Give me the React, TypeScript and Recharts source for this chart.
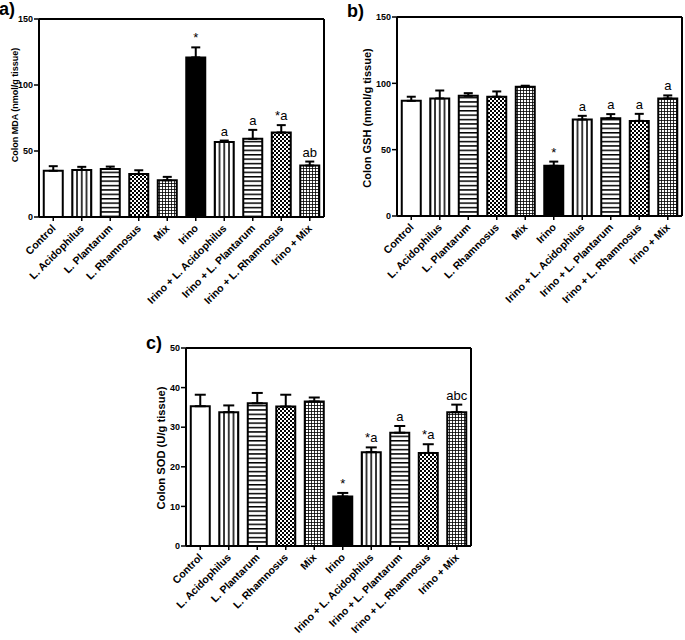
import React from "react";
import {
  ComposedChart,
  Bar,
  Cell,
  ErrorBar,
  Line,
  LabelList,
  ReferenceLine,
  XAxis,
  YAxis,
} from "recharts";

const FONT = '"Liberation Sans", Arial, sans-serif';

const categories = [
  "Control",
  "L. Acidophilus",
  "L. Plantarum",
  "L. Rhamnosus",
  "Mix",
  "Irino",
  "Irino + L. Acidophilus",
  "Irino + L. Plantarum",
  "Irino + L. Rhamnosus",
  "Irino + Mix",
];

// a) colon MDA
const mdaMean = [35, 35.7, 36.4, 32.6, 27.8, 120.9, 56.9, 59.2, 64, 39];
const mdaErr = [3.5, 2.3, 1.8, 2.8, 2.6, 7.6, 1.0, 6.8, 5.6, 3.0];
const mdaNote = ["", "", "", "", "", "*", "a", "a", "*a", "ab"];
const mdaTicks = [0, 50, 100, 150];

// b) colon GSH
const gshMean = [86.8, 88.6, 90.6, 89.9, 97.4, 37.8, 72.7, 73.7, 71.7, 88.6];
const gshErr = [3.1, 6.0, 2.0, 4.0, 0.8, 3.2, 2.8, 3.1, 5.3, 2.3];
const gshNote = ["", "", "", "", "", "*", "a", "a", "a", "a"];
const gshTicks = [0, 50, 100, 150];

// c) colon SOD
const sodMean = [35.3, 33.8, 36.05, 35.2, 36.5, 12.5, 23.7, 28.6, 23.5, 33.8];
const sodErr = [2.9, 1.7, 2.6, 3.0, 1.0, 0.9, 1.2, 1.7, 2.2, 1.9];
const sodNote = ["", "", "", "", "", "*", "*a", "a", "*a", "abc"];
const sodTicks = [0, 10, 20, 30, 40, 50];

// bar fills, one per group
const fills = [
  "#fff",
  "url(#vlines)",
  "url(#hlines)",
  "url(#checker)",
  "url(#grid)",
  "#000",
  "url(#vlines)",
  "url(#hlines)",
  "url(#checker)",
  "url(#grid)",
];

function buildRows(mean: number[], err: number[], notes: string[]) {
  return categories.map((name, i) => ({
    name,
    value: mean[i],
    err: [0, err[i]],
    top: mean[i] + err[i],
    note: notes[i],
  }));
}

function AngledTick(props: any) {
  const { x, y, payload } = props;
  const tx = x + 3;
  const ty = y + 8;
  return (
    <text
      x={tx}
      y={ty}
      transform={`rotate(-45 ${tx} ${ty})`}
      textAnchor="end"
      fontSize={10.5}
      fontWeight="bold"
      fontFamily={FONT}
      fill="#000"
    >
      {payload.value}
    </text>
  );
}

interface PanelProps {
  rows: any[];
  width: number;
  height: number;
  top: number;
  right: number;
  axisWidth: number;
  xAxisHeight: number;
  ticks: number[];
  title: string;
  titleX: number;
  titleY: number;
  titleSize: number;
  capWidth: number;
}

function Panel(p: PanelProps) {
  const line = { stroke: "#000", strokeWidth: 2 };
  const tickLine = { stroke: "#000", strokeWidth: 1.5 };
  const yMax = p.ticks[p.ticks.length - 1];
  return (
    <ComposedChart
      width={p.width}
      height={p.height}
      data={p.rows}
      margin={{ top: p.top, right: p.right, left: 0, bottom: 0 }}
      barCategoryGap="16.7%"
    >
      <XAxis
        dataKey="name"
        interval={0}
        tick={<AngledTick />}
        tickSize={4}
        tickMargin={0}
        height={p.xAxisHeight}
        axisLine={line}
        tickLine={tickLine}
      />
      <YAxis
        domain={[p.ticks[0], yMax]}
        ticks={p.ticks}
        interval={0}
        width={p.axisWidth}
        tickSize={5}
        tickMargin={1}
        tick={{ fontSize: 9, fontWeight: "bold", fontFamily: FONT, fill: "#000" }}
        axisLine={line}
        tickLine={tickLine}
        label={() => (
          <text
            x={p.titleX}
            y={p.titleY}
            transform={`rotate(-90 ${p.titleX} ${p.titleY})`}
            textAnchor="middle"
            dominantBaseline="central"
            fontSize={p.titleSize}
            fontWeight="bold"
            fontFamily={FONT}
            fill="#000"
          >
            {p.title}
          </text>
        )}
      />
      {/* box frame: top and right edges */}
      <ReferenceLine y={yMax} stroke="#000" strokeWidth={2} />
      <ReferenceLine
        x={categories[categories.length - 1]}
        position="end"
        stroke="#000"
        strokeWidth={2}
      />
      <Bar dataKey="value" stroke="#000" strokeWidth={2} isAnimationActive={false}>
        {p.rows.map((r, i) => (
          <Cell key={r.name} fill={fills[i]} />
        ))}
        <ErrorBar dataKey="err" width={p.capWidth} stroke="#000" strokeWidth={2} />
      </Bar>
      <Line
        dataKey="top"
        stroke="none"
        dot={false}
        activeDot={false}
        isAnimationActive={false}
      >
        <LabelList
          dataKey="note"
          position="top"
          offset={5}
          fontSize={13}
          fontFamily={FONT}
          fill="#000"
        />
      </Line>
    </ComposedChart>
  );
}

export default function App() {
  const mdaRows = buildRows(mdaMean, mdaErr, mdaNote);
  const gshRows = buildRows(gshMean, gshErr, gshNote);
  const sodRows = buildRows(sodMean, sodErr, sodNote);
  const letter = { fontSize: 18, fontWeight: "bold" as const, fontFamily: FONT, fill: "#000" };

  return (
    <div style={{ position: "absolute", left: 0, top: 0, width: 685, height: 640, background: "#fff", overflow: "hidden" }}>
      <svg width={685} height={640} style={{ position: "absolute", left: 0, top: 0 }}>
        <defs>
          <pattern id="vlines" patternUnits="objectBoundingBox" patternContentUnits="objectBoundingBox" width={0.25} height={1}>
            <rect x={0} y={0} width={0.25} height={1} fill="#fff" />
            <rect x={0} y={0} width={0.04} height={1} fill="#000" />
            <rect x={0.21} y={0} width={0.04} height={1} fill="#000" />
          </pattern>
          <pattern id="hlines" patternUnits="userSpaceOnUse" width={10} height={4.4}>
            <rect x={0} y={0} width={10} height={4.4} fill="#fff" />
            <rect x={0} y={0} width={10} height={1.5} fill="#000" />
          </pattern>
          <pattern id="checker" patternUnits="userSpaceOnUse" width={4} height={4}>
            <rect x={0} y={0} width={4} height={4} fill="#fff" />
            <rect x={0} y={0} width={2} height={2} fill="#000" />
            <rect x={2} y={2} width={2} height={2} fill="#000" />
          </pattern>
          <pattern id="grid" patternUnits="userSpaceOnUse" width={3} height={3}>
            <rect x={0} y={0} width={3} height={3} fill="#fff" />
            <rect x={0} y={0} width={3} height={0.8} fill="#000" />
            <rect x={0} y={0} width={0.8} height={3} fill="#000" />
          </pattern>
        </defs>
        <text x={-1} y={15} {...letter}>a)</text>
        <text x={347} y={17} {...letter}>b)</text>
        <text x={146} y={349} {...letter}>c)</text>
      </svg>

      <div style={{ position: "absolute", left: 0, top: 0 }}>
        <Panel rows={mdaRows} width={340} height={320} top={19} right={16} axisWidth={39}
          xAxisHeight={103} ticks={mdaTicks} title="Colon MDA (nmol/g tissue)"
          titleX={15} titleY={105} titleSize={9} capWidth={4.5} />
      </div>
      <div style={{ position: "absolute", left: 340, top: 0 }}>
        <Panel rows={gshRows} width={345} height={320} top={17} right={3} axisWidth={57}
          xAxisHeight={104} ticks={gshTicks} title="Colon GSH (nmol/g tissue)"
          titleX={27} titleY={118} titleSize={11} capWidth={4.5} />
      </div>
      <div style={{ position: "absolute", left: 140, top: 330 }}>
        <Panel rows={sodRows} width={340} height={310} top={18} right={9} axisWidth={46}
          xAxisHeight={94} ticks={sodTicks} title="Colon SOD (U/g tissue)"
          titleX={21} titleY={118} titleSize={11.2} capWidth={5.5} />
      </div>
    </div>
  );
}
